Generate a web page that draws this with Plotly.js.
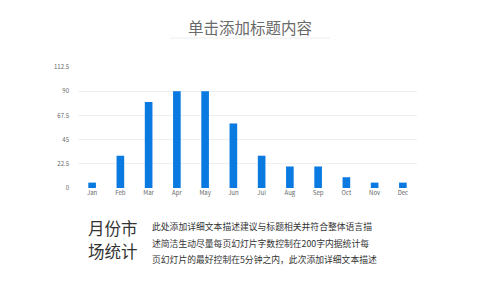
<!DOCTYPE html>
<html><head><meta charset="utf-8">
<script src="https://cdn.plot.ly/plotly-3.0.1.min.js"></script>
<style>html,body{margin:0;padding:0;background:#fff;}#chart{width:500px;height:281px;}</style>
</head><body><div id="chart"></div>
<script>
const months = ["Jan","Feb","Mar","Apr","May","Jun","Jul","Aug","Sep","Oct","Nov","Dec"];
const values = [5,30,80,90,90,60,30,20,20,10,5,5];
const yTicks = [0,22.5,45,67.5,90,112.5];
const titleText = "单击添加标题内容";
const sideTitleLines = ["月份市","场统计"];
const descLines = ["此处添加详细文本描述建议与标题相关并符合整体语言描","述简洁生动尽量每页幻灯片字数控制在200字内据统计每","页幻灯片的最好控制在5分钟之内，此次添加详细文本描述"];
const font = "Noto Sans CJK SC, Noto Sans, sans-serif";
const M = {l:78, r:83, t:67, b:93};
const W = 500, H = 281;
const pw = W - M.l - M.r, ph = H - M.t - M.b;
const px = x => (x - M.l) / pw;
const py = y => (H - M.b - y) / ph;
const data = [{type:"bar", x:months, y:values, marker:{color:"#0a7ae0"}, hoverinfo:"none"}];
const annotations = [
 {text:titleText, xref:"paper", yref:"paper", x:px(250), y:py(27), xanchor:"center", yanchor:"middle", showarrow:false, font:{family:font,size:15.5,color:"#6a6a6a"}}
];
sideTitleLines.forEach((t,i)=>annotations.push({text:t, xref:"paper", yref:"paper", x:px(87), y:py(228+i*23), xanchor:"left", yanchor:"middle", showarrow:false, borderpad:0, font:{family:font,size:16.5,color:"#333"}}));
descLines.forEach((t,i)=>annotations.push({text:t, xref:"paper", yref:"paper", x:px(151), y:py(226.5+i*16.5), xanchor:"left", yanchor:"middle", showarrow:false, borderpad:0, font:{family:font,size:8.8,color:"#333"}}));
const layout = {
 width:W, height:H, margin:M,
 paper_bgcolor:"#fff", plot_bgcolor:"#fff",
 bargap:0.73, showlegend:false,
 xaxis:{tickfont:{family:font,size:6,color:"#666"}, showgrid:false, zeroline:false, showline:false, ticks:""},
 yaxis:{range:[0,112.5], tickvals:yTicks, ticktext:yTicks.map(String), tickfont:{family:font,size:6,color:"#666"}, gridcolor:"#efefef", gridwidth:1, zeroline:false, showline:false, ticks:"", ticklabelstandoff:8},
 annotations:annotations,
 shapes:[{type:"line", xref:"paper", yref:"paper", x0:px(170), x1:px(330), y0:py(38), y1:py(38), line:{color:"#eee",width:1}}]
};
Plotly.newPlot("chart", data, layout, {displayModeBar:false, staticPlot:true});
</script></body></html>
